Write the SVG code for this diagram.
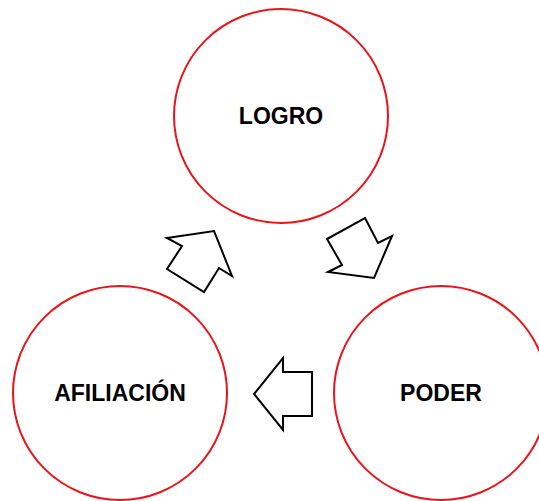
<svg xmlns="http://www.w3.org/2000/svg" width="539" height="501" viewBox="0 0 539 501">
<style>
.c{fill:#fff;stroke:#e8141b;stroke-width:2}
.t{font-family:"Liberation Sans",Arial,sans-serif;font-weight:bold;font-size:23px;fill:#000;text-anchor:middle}
.a{fill:#fff;stroke:#000;stroke-width:2;stroke-linejoin:miter}
</style>
<rect width="539" height="501" fill="#fff"/>
<g id="logro"><circle class="c" cx="281" cy="116" r="107"/><text class="t" x="281" y="124">LOGRO</text></g>
<g id="afiliacion"><circle class="c" cx="120" cy="393" r="107"/><text class="t" x="120" y="401">AFILIACIÓN</text></g>
<g id="poder"><circle class="c" cx="441" cy="393" r="107"/><text class="t" x="441" y="401">PODER</text></g>
<g id="connectors">
<polygon class="a" points="365,218 378,243 392,236 374,278 328,272 342,265 327,239"/>
<polygon class="a" points="283,358 283,372 312,372 312,416 283,416 283,430 254,394"/>
<polygon class="a" points="167,238 214,231 232,276 219,268 204,292 167,269 182,246"/>
</g>
</svg>
